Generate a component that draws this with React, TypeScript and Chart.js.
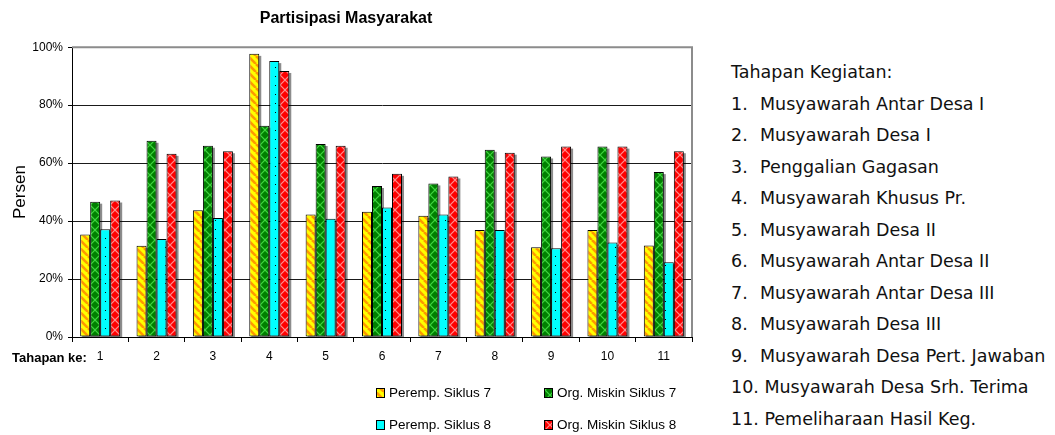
import React, { useEffect, useRef } from 'react';
import { Chart, registerables } from 'chart.js';

Chart.register(...registerables);

const categories = ['1', '2', '3', '4', '5', '6', '7', '8', '9', '10', '11'];
const seriesLabels = ['Peremp. Siklus 7', 'Org. Miskin Siklus 7', 'Peremp. Siklus 8', 'Org. Miskin Siklus 8'];
const peremp7 = [35.4, 31.5, 43.7, 97.7, 42.3, 43.2, 41.8, 36.9, 31.0, 36.9, 31.6];
const miskin7 = [46.7, 67.7, 66.0, 72.9, 66.6, 52.1, 53.0, 64.6, 62.3, 65.7, 56.9];
const peremp8 = [37.2, 33.8, 41.1, 95.2, 40.8, 44.7, 42.3, 36.9, 30.6, 32.6, 25.8];
const miskin8 = [47.1, 63.2, 64.1, 91.8, 66.0, 56.3, 55.4, 63.6, 65.7, 65.7, 64.1];
const yTicks = [0, 20, 40, 60, 80, 100];
const chartTitle = 'Partisipasi Masyarakat';
const yTitle = 'Persen';
const xTitle = 'Tahapan ke:';
const listTitle = 'Tahapan Kegiatan:';
const stageNames = [
  'Musyawarah Antar Desa I',
  'Musyawarah Desa I',
  'Penggalian Gagasan',
  'Musyawarah Khusus Pr.',
  'Musyawarah Desa II',
  'Musyawarah Antar Desa II',
  'Musyawarah Antar Desa III',
  'Musyawarah Desa III',
  'Musyawarah Desa Pert. Jawaban',
  'Musyawarah Desa Srh. Terima',
  'Pemeliharaan Hasil Keg.',
];

const FONT = '"Liberation Sans", Arial, sans-serif';

function makePattern(kind: string): CanvasPattern | string {
  const c = document.createElement('canvas');
  const g = c.getContext('2d');
  if (!g) return '#888';
  if (kind === 'stripe') {
    c.width = 8; c.height = 8;
    g.fillStyle = '#FFFF00';
    g.fillRect(0, 0, 8, 8);
    g.strokeStyle = '#FF9900';
    g.lineWidth = 2.6;
    for (const o of [-8, 0, 8]) {
      g.beginPath();
      g.moveTo(o, 0);
      g.lineTo(o + 8, 8);
      g.stroke();
    }
  } else if (kind === 'green' || kind === 'red') {
    c.width = 10; c.height = 10;
    g.fillStyle = kind === 'green' ? '#008000' : '#FF0000';
    g.fillRect(0, 0, 10, 10);
    g.strokeStyle = kind === 'green' ? '#3FD43F' : '#FF8A8A';
    g.lineWidth = 1.2;
    g.beginPath();
    g.moveTo(0, 5); g.lineTo(5, 0); g.lineTo(10, 5); g.lineTo(5, 10); g.closePath();
    g.stroke();
  } else {
    c.width = 10; c.height = 9;
    g.fillStyle = '#00FFFF';
    g.fillRect(0, 0, 10, 9);
    g.fillStyle = '#000';
    g.fillRect(5, 4, 1, 1);
  }
  const p = g.createPattern(c, 'repeat');
  return p || '#888';
}

const shadowPlugin = {
  id: 'barShadowAndFrame',
  beforeDatasetsDraw(chart: any) {
    const { ctx, chartArea } = chart;
    ctx.save();
    // plot frame (top and right, gray)
    ctx.strokeStyle = '#8c8c8c';
    ctx.lineWidth = 2;
    ctx.beginPath();
    ctx.moveTo(chartArea.left, chartArea.top);
    ctx.lineTo(chartArea.right, chartArea.top);
    ctx.lineTo(chartArea.right, chartArea.bottom);
    ctx.stroke();
    ctx.beginPath();
    ctx.rect(chartArea.left, chartArea.top - 5, chartArea.right - chartArea.left + 4, chartArea.bottom - chartArea.top + 5);
    ctx.clip();
    ctx.fillStyle = 'rgba(0,0,0,0.45)';
    chart.data.datasets.forEach((_ds: any, i: number) => {
      const meta = chart.getDatasetMeta(i);
      meta.data.forEach((el: any) => {
        const { x, y, base, width } = el.getProps(['x', 'y', 'base', 'width'], true);
        ctx.fillRect(x - width / 2 + 2, y + 2, width, base - y);
      });
    });
    ctx.restore();
  },
};

const labelsPlugin = {
  id: 'extraLabels',
  afterDraw(chart: any) {
    const { ctx } = chart;
    ctx.save();
    ctx.fillStyle = '#000';
    ctx.textBaseline = 'middle';
    ctx.textAlign = 'left';
    ctx.font = `bold 13px ${FONT}`;
    ctx.fillText(xTitle, 12, 358);
    // legend 2x2
    const colBox = [376, 544];
    const rowY = [393, 425];
    ctx.font = `13.5px ${FONT}`;
    chart.data.datasets.forEach((ds: any, i: number) => {
      const col = i % 2;
      const row = Math.floor(i / 2);
      const bx = colBox[col];
      const by = rowY[row] - 5;
      ctx.fillStyle = ds.backgroundColor;
      ctx.fillRect(bx, by, 9, 10);
      ctx.strokeStyle = '#000';
      ctx.lineWidth = 1;
      ctx.strokeRect(bx + 0.5, by + 0.5, 8, 9);
      ctx.fillStyle = '#000';
      ctx.fillText(ds.label, bx + 13, rowY[row]);
    });
    ctx.restore();
  },
};

export default function App() {
  const canvasRef = useRef<HTMLCanvasElement | null>(null);

  useEffect(() => {
    document.body.style.margin = '0';
    const canvas = canvasRef.current;
    if (!canvas) return;
    const patterns = [makePattern('stripe'), makePattern('green'), makePattern('dots'), makePattern('red')];
    const values = [peremp7, miskin7, peremp8, miskin8];
    const chart = new Chart(canvas, {
      type: 'bar',
      data: {
        labels: categories,
        datasets: values.map((v, i) => ({
          label: seriesLabels[i],
          data: v,
          backgroundColor: patterns[i] as any,
          borderColor: '#000',
          borderWidth: 1,
          borderSkipped: false,
          categoryPercentage: 0.71,
          barPercentage: 1.0,
        })),
      },
      options: {
        responsive: false,
        animation: false,
        devicePixelRatio: 1,
        events: [],
        layout: { padding: { left: 0, right: 8, top: 0, bottom: 0 } },
        plugins: {
          legend: { display: false },
          tooltip: { enabled: false },
          title: {
            display: true,
            text: chartTitle,
            color: '#000',
            font: { family: FONT, size: 16, weight: 'bold' },
            padding: { top: 9, bottom: 19 },
          },
        },
        scales: {
          x: {
            grid: {
              display: true,
              drawOnChartArea: false,
              drawTicks: true,
              tickLength: 5,
              color: '#000',
              tickColor: '#000',
              offset: true,
            },
            border: { display: true, color: '#000', width: 1 },
            ticks: { color: '#000', font: { family: FONT, size: 12 }, padding: 7, maxRotation: 0 },
            afterFit: (s: any) => { s.height = 98; },
          },
          y: {
            min: 0,
            max: 100,
            afterBuildTicks: (s: any) => { s.ticks = yTicks.map((v) => ({ value: v })); },
            ticks: {
              color: '#000',
              font: { family: FONT, size: 12 },
              padding: 5,
              callback: (v: any) => `${v}%`,
            },
            grid: {
              color: (c: any) => (c.tick && c.tick.value === 100 ? 'rgba(0,0,0,0)' : '#1a1a1a'),
              tickColor: '#000',
              tickLength: 4,
              drawTicks: true,
              lineWidth: 1,
            },
            border: { display: true, color: '#000', width: 1 },
            title: {
              display: true,
              text: yTitle,
              color: '#000',
              font: { family: FONT, size: 17 },
              padding: { top: 10, bottom: 0 },
            },
            afterFit: (s: any) => { s.width = 72; },
          },
        },
      },
      plugins: [shadowPlugin, labelsPlugin],
    } as any);
    return () => chart.destroy();
  }, []);

  return (
    <div style={{ position: 'relative', width: 1055, height: 435, background: '#fff', overflow: 'hidden' }}>
      <canvas ref={canvasRef} width={700} height={435} style={{ position: 'absolute', left: 0, top: 0 }} />
      <div
        style={{
          position: 'absolute',
          left: 731,
          top: 57,
          fontFamily: '"DejaVu Sans", sans-serif',
          fontSize: 17.5,
          lineHeight: '31.5px',
          color: '#111',
          whiteSpace: 'nowrap',
        }}
      >
        <div>{listTitle}</div>
        {stageNames.map((n, i) =>
          i < 9 ? (
            <div key={i}>
              <span style={{ display: 'inline-block', width: 29 }}>{i + 1}.</span>
              {n}
            </div>
          ) : (
            <div key={i}>{`${i + 1}. ${n}`}</div>
          )
        )}
      </div>
    </div>
  );
}
